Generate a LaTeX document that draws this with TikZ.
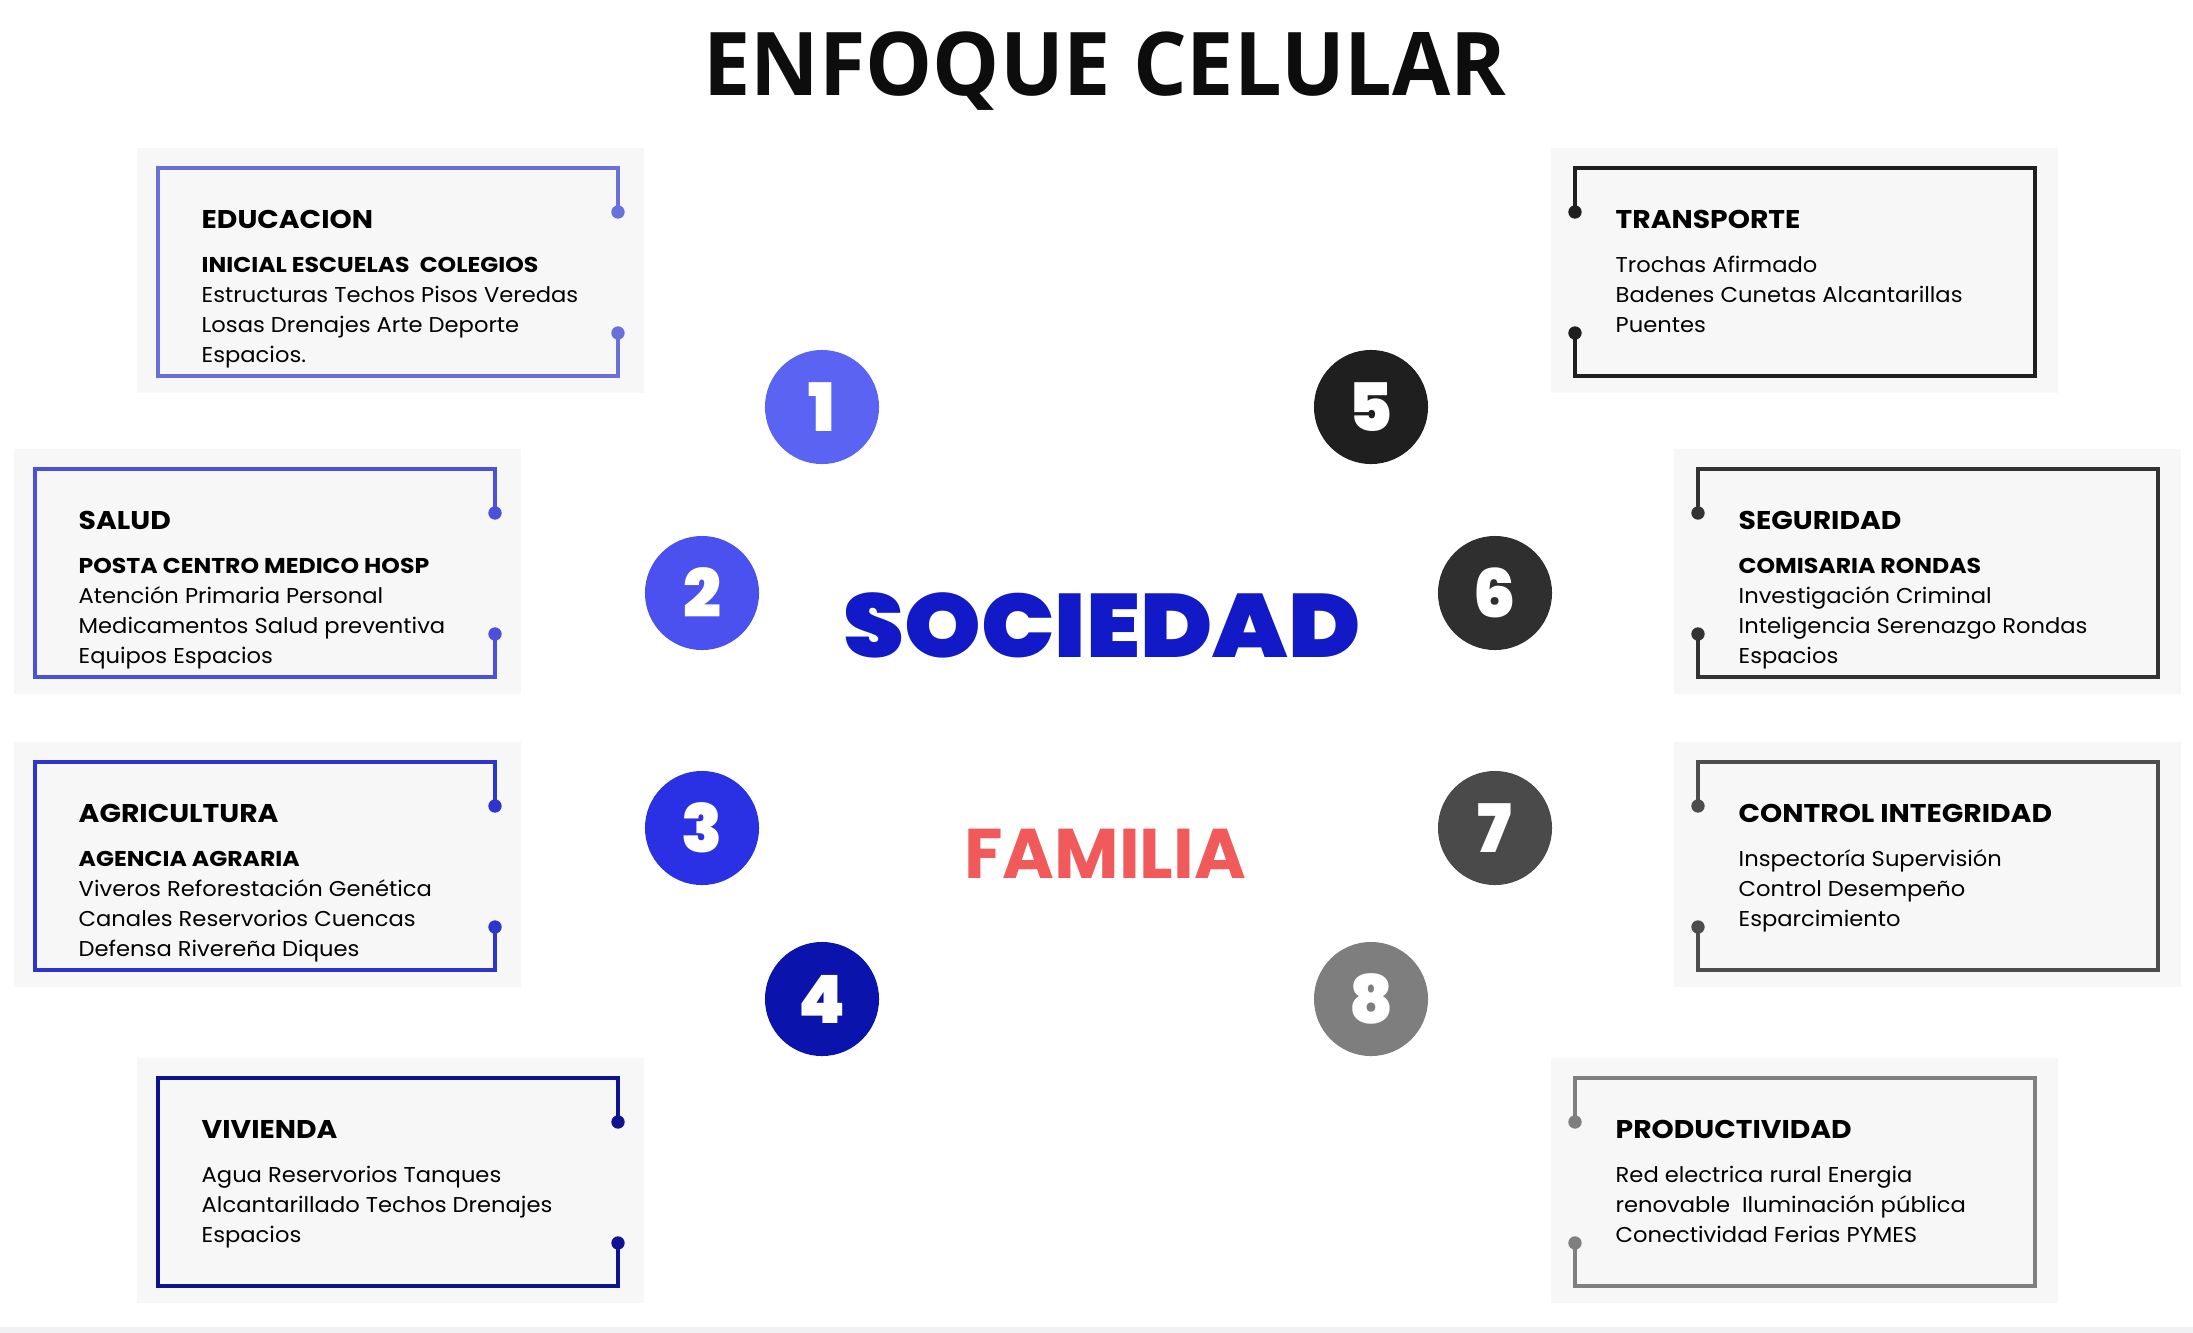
\documentclass[tikz,border=0pt]{standalone}
\usepackage{fontspec}
\setmainfont{Poppins}
\newfontfamily\cellfont{Poppins}[FakeStretch=1.055, BoldFeatures={FakeStretch=1.1}]
\newfontfamily\headfont{Open Sans}[FakeStretch=0.96]
\newfontfamily\heavyfont{Poppins Black}
\newfontfamily\widefont{Poppins Black}[FakeStretch=1.083]
\usetikzlibrary{positioning,calc}
\definecolor{panelgray}{HTML}{F7F7F8}
\definecolor{stripgray}{HTML}{F1F1F3}
\definecolor{cellA}{HTML}{5B63F2}
\definecolor{cellB}{HTML}{4A51EF}
\definecolor{cellC}{HTML}{2A31E4}
\definecolor{cellD}{HTML}{0B13AD}
\definecolor{cellE}{HTML}{1F1F1F}
\definecolor{cellF}{HTML}{2F2F2F}
\definecolor{cellG}{HTML}{4A4A4A}
\definecolor{cellH}{HTML}{7E7E7E}
\definecolor{rimA}{HTML}{6870DA}
\definecolor{rimB}{HTML}{4B52D9}
\definecolor{rimC}{HTML}{2E35CC}
\definecolor{rimD}{HTML}{0E1390}
\definecolor{rimE}{HTML}{1F1F1F}
\definecolor{rimF}{HTML}{333333}
\definecolor{rimG}{HTML}{4D4D4D}
\definecolor{rimH}{HTML}{7F7F7F}
\definecolor{socblue}{HTML}{1219C6}
\definecolor{famred}{HTML}{F05A5A}
\newcommand{\headtxt}[1]{{\fontsize{7.3}{8.54}\selectfont\bfseries #1}}

\begin{document}
\begin{tikzpicture}[x=0.01cm, y=-0.01cm,
  panel/.style={fill=panelgray, minimum width=5.07cm, minimum height=2.45cm,
    inner sep=0pt, anchor=north west},
  rim/.style={line width=0.9pt},
  cell/.style={anchor=north west, align=left, inner sep=0pt,
    font=\cellfont\fontsize{6.1}{8.54}\selectfont},
  badge/.style={circle, minimum size=1.14cm, inner sep=0pt, text=white,
    font=\heavyfont\fontsize{19}{19}\selectfont}
]
  \useasboundingbox (0,0) rectangle (2193,1333);
  \fill[white] (0,0) rectangle (2193,1333);
  \fill[stripgray] (0,1327) rectangle (2193,1333);

  % --- Title ---
  \node[font=\headfont\bfseries\fontsize{25}{25}\selectfont, text=black!95,
    anchor=base] (title) at (1105,95) {ENFOQUE CELULAR};

  % --- 1 Educacion ---
  \node[panel] (edu) at (136,147) {};
  \begin{scope}[shift={(edu.north west)}]
    \draw[rim, rimA] (482,65) |- (22,21) |- (482,229) -- (482,186);
    \fill[rimA] (482,65) circle (1.9pt) (482,186) circle (1.9pt);
    \node[cell] (edu-txt) at (65,63) {\headtxt{EDUCACION}\\[3.8pt]
      \textbf{INICIAL ESCUELAS\ \ COLEGIOS}\\
      Estructuras Techos Pisos Veredas\\
      Losas Drenajes Arte Deporte\\
      Espacios.};
  \end{scope}

  % --- 2 Salud ---
  \node[panel] (sal) at (13,448) {};
  \begin{scope}[shift={(sal.north west)}]
    \draw[rim, rimB] (482,65) |- (22,21) |- (482,229) -- (482,186);
    \fill[rimB] (482,65) circle (1.9pt) (482,186) circle (1.9pt);
    \node[cell] (sal-txt) at (65,63) {\headtxt{SALUD}\\[3.8pt]
      \textbf{POSTA CENTRO MEDICO HOSP}\\
      Atención Primaria Personal\\
      Medicamentos Salud preventiva\\
      Equipos Espacios};
  \end{scope}

  % --- 3 Agricultura ---
  \node[panel] (agr) at (13,741) {};
  \begin{scope}[shift={(agr.north west)}]
    \draw[rim, rimC] (482,65) |- (22,21) |- (482,229) -- (482,186);
    \fill[rimC] (482,65) circle (1.9pt) (482,186) circle (1.9pt);
    \node[cell] (agr-txt) at (65,63) {\headtxt{AGRICULTURA}\\[3.8pt]
      \textbf{AGENCIA AGRARIA}\\
      Viveros Reforestación Genética\\
      Canales Reservorios Cuencas\\
      Defensa Rivereña Diques};
  \end{scope}

  % --- 4 Vivienda ---
  \node[panel] (viv) at (136,1057) {};
  \begin{scope}[shift={(viv.north west)}]
    \draw[rim, rimD] (482,65) |- (22,21) |- (482,229) -- (482,186);
    \fill[rimD] (482,65) circle (1.9pt) (482,186) circle (1.9pt);
    \node[cell] (viv-txt) at (65,63) {\headtxt{VIVIENDA}\\[3.8pt]
      Agua Reservorios Tanques\\
      Alcantarillado Techos Drenajes\\
      Espacios};
  \end{scope}

  % --- 5 Transporte ---
  \node[panel] (tra) at (1550,147) {};
  \begin{scope}[shift={(tra.north west)}]
    \draw[rim, rimE] (25,65) |- (485,21) |- (25,229) -- (25,186);
    \fill[rimE] (25,65) circle (1.9pt) (25,186) circle (1.9pt);
    \node[cell] (tra-txt) at (65,63) {\headtxt{TRANSPORTE}\\[3.8pt]
      Trochas Afirmado\\
      Badenes Cunetas Alcantarillas\\
      Puentes};
  \end{scope}

  % --- 6 Seguridad ---
  \node[panel] (seg) at (1673,448) {};
  \begin{scope}[shift={(seg.north west)}]
    \draw[rim, rimF] (25,65) |- (485,21) |- (25,229) -- (25,186);
    \fill[rimF] (25,65) circle (1.9pt) (25,186) circle (1.9pt);
    \node[cell] (seg-txt) at (65,63) {\headtxt{SEGURIDAD}\\[3.8pt]
      \textbf{COMISARIA RONDAS}\\
      Investigación Criminal\\
      Inteligencia Serenazgo Rondas\\
      Espacios};
  \end{scope}

  % --- 7 Control ---
  \node[panel] (con) at (1673,741) {};
  \begin{scope}[shift={(con.north west)}]
    \draw[rim, rimG] (25,65) |- (485,21) |- (25,229) -- (25,186);
    \fill[rimG] (25,65) circle (1.9pt) (25,186) circle (1.9pt);
    \node[cell] (con-txt) at (65,63) {\headtxt{CONTROL INTEGRIDAD}\\[3.8pt]
      Inspectoría Supervisión\\
      Control Desempeño\\
      Esparcimiento};
  \end{scope}

  % --- 8 Productividad ---
  \node[panel] (pro) at (1550,1057) {};
  \begin{scope}[shift={(pro.north west)}]
    \draw[rim, rimH] (25,65) |- (485,21) |- (25,229) -- (25,186);
    \fill[rimH] (25,65) circle (1.9pt) (25,186) circle (1.9pt);
    \node[cell] (pro-txt) at (65,63) {\headtxt{PRODUCTIVIDAD}\\[3.8pt]
      Red electrica rural Energia\\
      renovable\ \ Iluminación pública\\
      Conectividad Ferias PYMES};
  \end{scope}

  % --- Badges ---
  \node[badge, fill=cellA] (n1) at (822,407) {1};
  \node[badge, fill=cellB] (n2) at (702,593) {2};
  \node[badge, fill=cellC] (n3) at (702,828) {3};
  \node[badge, fill=cellD] (n4) at (822,999) {4};
  \node[badge, fill=cellE] (n5) at (1371,407) {5};
  \node[badge, fill=cellF] (n6) at (1495,593) {6};
  \node[badge, fill=cellG] (n7) at (1495,828) {7};
  \node[badge, fill=cellH] (n8) at (1371,999) {8};

  % --- Centre ---
  \node[font=\widefont\fontsize{25.6}{25.6}\selectfont, text=socblue,
    anchor=base] (soc) at (1102,657) {SOCIEDAD};
  \node[font=\bfseries\fontsize{20}{20}\selectfont, text=famred,
    anchor=base] (fam) at (1105,878) {FAMILIA};
\end{tikzpicture}
\end{document}
